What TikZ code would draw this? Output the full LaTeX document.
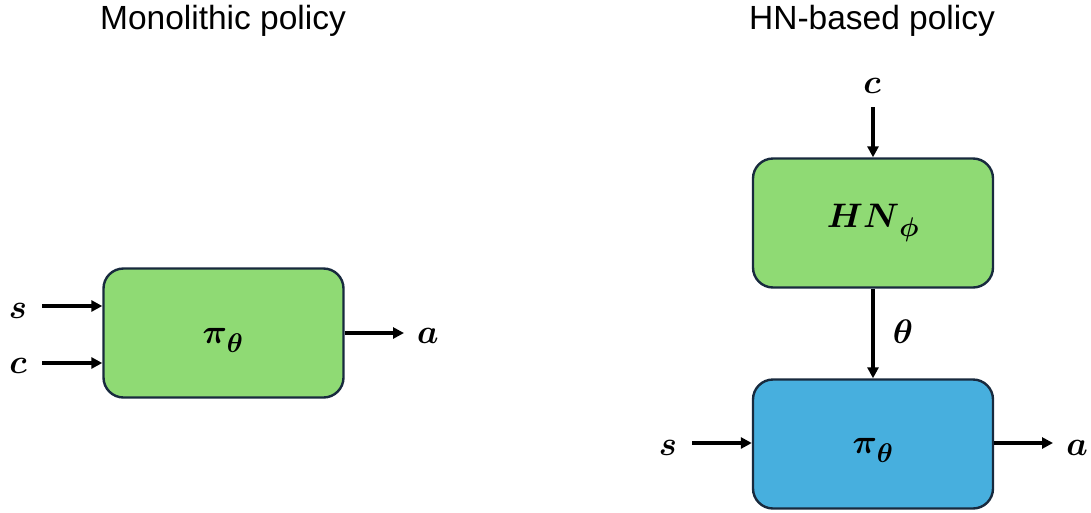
\RequirePackage{fix-cm}
\documentclass[tikz,border=0pt]{standalone}
\usepackage{fontspec}
\usepackage{amsmath}
\setsansfont{Liberation Sans}
\usetikzlibrary{arrows.meta}
\DeclareMathSizes{34}{34}{27}{20}
\definecolor{boxgreen}{RGB}{143,218,116}
\definecolor{boxblue}{RGB}{71,175,222}
\definecolor{boxedge}{RGB}{24,42,62}
% bold symbol with a lowered bold subscript
\newcommand{\bsub}[2]{\boldsymbol{#1}_{\lower4pt\hbox{$\scriptstyle\boldsymbol{#2}$}}}
\tikzset{
  block/.style={draw=boxedge, line width=2.4pt, rounded corners=20pt,
    minimum width=240pt, minimum height=129pt, inner sep=0pt},
  greenblock/.style={block, fill=boxgreen},
  blueblock/.style={block, fill=boxblue},
  mathfont/.style={font=\fontsize{34}{38}\selectfont},
  sym/.style={inner sep=0pt, anchor=base, mathfont},
  title/.style={inner sep=0pt, anchor=base, font=\sffamily\fontsize{33.5}{38}\selectfont},
  flow/.style={line width=3.4pt, -{Triangle[length=11pt,width=11pt]}}
}
\begin{document}
\begin{tikzpicture}[x=1pt,y=-1pt]
\useasboundingbox (0,0) rectangle (1091,512);

% left: monolithic policy
\node[title] at (223,29) {Monolithic policy};
\node[greenblock] (pi1) at (223.5,333) {};
\node[sym] (pi1l) at (223,343) {$\bsub{\pi}{\theta}$};
\node[sym] (s1) at (18,318) {$\boldsymbol{s}$};
\node[sym] (c1) at (18,373) {$\boldsymbol{c}$};
\node[sym] (a1) at (428,343) {$\boldsymbol{a}$};
\coordinate (s1e) at (42,306);
\coordinate (c1e) at (42,363);
\draw[flow] (s1e) -- (s1e -| pi1.west);
\draw[flow] (c1e) -- (c1e -| pi1.west);
\coordinate (a1e) at (404,333);
\draw[flow] (pi1.east |- a1e) -- (a1e);

% right: hypernetwork-based policy
\node[title] at (872,29) {HN-based policy};
\node[greenblock] (hn) at (873,223) {};
\node[sym] (hnl) at (873,227) {$\bsub{HN}{\phi}$};
\node[blueblock] (pi2) at (873,444) {};
\node[sym] (pi2l) at (873,453) {$\bsub{\pi}{\theta}$};
\node[sym] (c2) at (872,93) {$\boldsymbol{c}$};
\node[sym] (th) at (903,343) {$\boldsymbol{\theta}$};
\node[sym] (s2) at (668,455) {$\boldsymbol{s}$};
\node[sym] (a2) at (1077,455) {$\boldsymbol{a}$};
\coordinate (c2e) at (873,107);
\draw[flow] (c2e) -- (hn.north);
\draw[flow] (hn.south) -- (pi2.north);
\coordinate (s2e) at (692,443);
\draw[flow] (s2e) -- (s2e -| pi2.west);
\coordinate (a2e) at (1053,443);
\draw[flow] (pi2.east |- a2e) -- (a2e);
\end{tikzpicture}
\end{document}
